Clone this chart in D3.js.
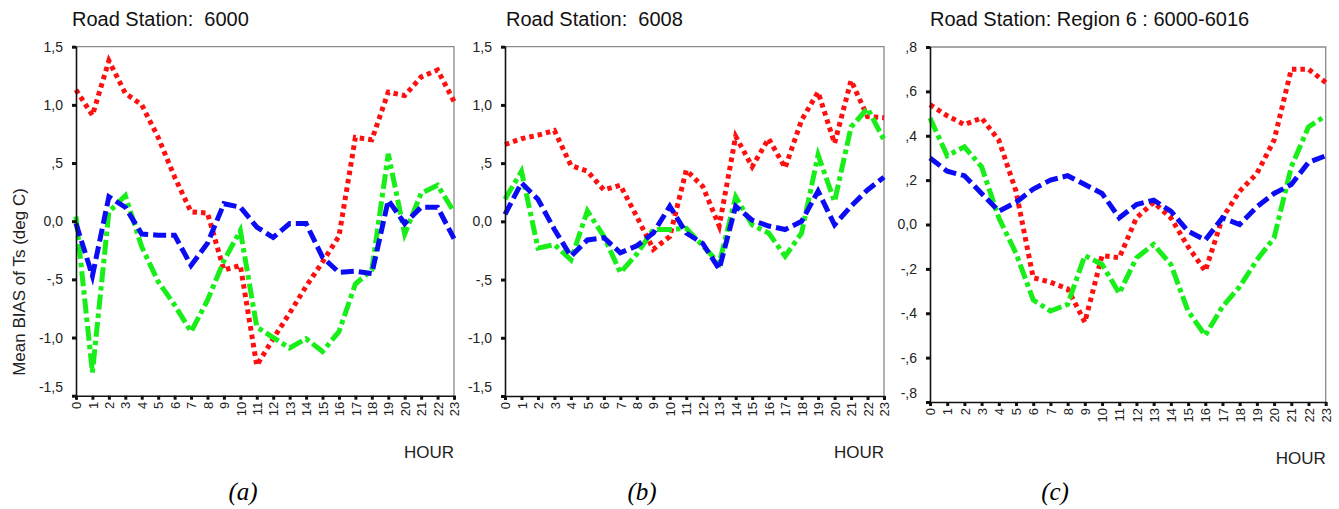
<!DOCTYPE html>
<html>
<head>
<meta charset="utf-8">
<script src="https://cdn.jsdelivr.net/npm/d3@7"></script>
<style>
  body { margin: 0; background: #fff; }
  svg { display: block; font-family: "Liberation Sans", Arial, sans-serif; }
</style>
</head>
<body>
<svg id="chart" width="1339" height="509"></svg>
<script>
// hours on the x axis
const hours = d3.range(0, 24);

// y ticks and their labels (SPSS style, comma decimal)
const yTicksAB = [1.5, 1.0, 0.5, 0.0, -0.5, -1.0, -1.5],
  yLabelsAB = ["1,5", "1,0", ",5", "0,0", "-,5", "-1,0", "-1,5"],
  yTicksC = [0.8, 0.6, 0.4, 0.2, 0.0, -0.2, -0.4, -0.6, -0.8],
  yLabelsC = [",8", ",6", ",4", ",2", "0,0", "-,2", "-,4", "-,6", "-,8"];

const titles = ["Road Station:  6000", "Road Station:  6008", "Road Station: Region 6 : 6000-6016"],
  captions = ["(a)", "(b)", "(c)"];

// station 6000
const redA = [1.13, 0.91, 1.38, 1.10, 1.00, 0.72, 0.38, 0.08, 0.07, -0.42, -0.38, -1.24, -1.01, -0.79, -0.56, -0.35, -0.13, 0.72, 0.70, 1.11, 1.08, 1.24, 1.30, 1.03],
  greenA = [0.04, -1.30, 0.08, 0.22, -0.22, -0.52, -0.72, -0.95, -0.68, -0.34, -0.08, -0.91, -1.00, -1.09, -1.01, -1.12, -0.95, -0.54, -0.42, 0.58, -0.11, 0.24, 0.31, 0.08],
  blueA = [-0.02, -0.47, 0.21, 0.12, -0.11, -0.12, -0.12, -0.38, -0.19, 0.15, 0.12, -0.05, -0.14, -0.02, -0.02, -0.31, -0.44, -0.43, -0.45, 0.18, -0.02, 0.12, 0.12, -0.15];

// station 6008
const redB = [0.66, 0.71, 0.74, 0.78, 0.48, 0.43, 0.27, 0.31, 0.04, -0.24, -0.13, 0.44, 0.30, -0.04, 0.73, 0.47, 0.71, 0.46, 0.87, 1.11, 0.67, 1.21, 0.90, 0.89],
  greenB = [0.19, 0.43, -0.23, -0.20, -0.33, 0.09, -0.13, -0.44, -0.28, -0.07, -0.07, -0.06, -0.21, -0.36, 0.21, -0.03, -0.10, -0.30, -0.10, 0.57, 0.17, 0.81, 0.97, 0.70],
  blueB = [0.06, 0.33, 0.19, -0.07, -0.30, -0.16, -0.14, -0.27, -0.21, -0.10, 0.13, -0.10, -0.19, -0.41, 0.13, 0.01, -0.04, -0.07, 0.00, 0.26, -0.03, 0.13, 0.27, 0.38];

// region 6
const redC = [0.54, 0.49, 0.45, 0.48, 0.38, 0.15, -0.24, -0.26, -0.29, -0.44, -0.14, -0.15, 0.03, 0.10, 0.03, -0.10, -0.21, 0.03, 0.15, 0.23, 0.38, 0.70, 0.70, 0.64],
  greenC = [0.48, 0.31, 0.35, 0.26, 0.03, -0.13, -0.34, -0.39, -0.36, -0.14, -0.18, -0.31, -0.15, -0.09, -0.18, -0.39, -0.50, -0.37, -0.28, -0.16, -0.06, 0.26, 0.44, 0.49],
  blueC = [0.30, 0.24, 0.22, 0.14, 0.06, 0.10, 0.16, 0.20, 0.22, 0.18, 0.14, 0.03, 0.09, 0.11, 0.06, -0.03, -0.07, 0.03, 0.00, 0.08, 0.14, 0.18, 0.28, 0.31];

const RED = "#ff1010", GREEN = "#18ee18", BLUE = "#0c0cf4";

const styles = [
  { color: RED, dash: "4.5,4" },
  { color: GREEN, dash: "15,4,4.5,4" },
  { color: BLUE, dash: "13,5" }
];

const panels = [
  { left: 76, right: 454, top: 46.7, bottom: 395.7, dom: [-1.5, 1.5], ticks: yTicksAB, labels: yLabelsAB, series: [redA, greenA, blueA], titleX: 72, captionX: 243 },
  { left: 505, right: 884, top: 46.7, bottom: 396, dom: [-1.5, 1.5], ticks: yTicksAB, labels: yLabelsAB, series: [redB, greenB, blueB], titleX: 506, captionX: 642 },
  { left: 930, right: 1325.7, top: 47, bottom: 402, dom: [-0.8, 0.8], ticks: yTicksC, labels: yLabelsC, series: [redC, greenC, blueC], titleX: 930, captionX: 1055 }
];

const svg = d3.select("#chart");

panels.forEach((p, i) => {
  const g = svg.append("g");

  const x = d3.scaleLinear().domain([0, 23]).range([p.left, p.right]);
  const y = d3.scaleLinear().domain(p.dom).range([p.bottom, p.top]);

  // frame: top and right edges grey
  g.append("path")
    .attr("d", `M${p.left},${p.top}H${p.right}V${p.bottom}`)
    .attr("fill", "none")
    .attr("stroke", "#8a8a8a")
    .attr("stroke-width", 1.3);

  // lines
  p.series.forEach((vals, k) => {
    const line = d3.line().x((d, j) => x(hours[j])).y(d => y(d));
    g.append("path")
      .datum(vals)
      .attr("d", line)
      .attr("fill", "none")
      .attr("stroke", styles[k].color)
      .attr("stroke-width", 5)
      .attr("stroke-dasharray", styles[k].dash)
      .attr("stroke-linejoin", "miter");
  });

  // y axis
  const yAxis = g.append("g")
    .attr("transform", `translate(${p.left},0)`)
    .call(d3.axisLeft(y).tickValues(p.ticks).tickSize(4).tickPadding(9)
      .tickFormat((d, j) => p.labels[j]));
  yAxis.select(".domain").attr("stroke", "#111").attr("stroke-width", 1.6);
  yAxis.selectAll(".tick line").attr("stroke", "#111").attr("stroke-width", 3);
  yAxis.selectAll(".tick text")
    .attr("font-size", 14)
    .attr("fill", "#222")
    .attr("font-family", "Liberation Sans, Arial, sans-serif")
    .attr("dy", (d, j) => j === p.ticks.length - 1 ? "-0.3em" : "0.32em");

  // x axis
  const xAxis = g.append("g")
    .attr("transform", `translate(0,${p.bottom})`)
    .call(d3.axisBottom(x).tickValues(hours).tickSize(4));
  xAxis.select(".domain").attr("stroke", "#111").attr("stroke-width", 1.6);
  xAxis.selectAll(".tick line").attr("stroke", "#111").attr("stroke-width", 3);
  xAxis.selectAll(".tick text")
    .attr("font-size", 13)
    .attr("fill", "#222")
    .attr("font-family", "Liberation Sans, Arial, sans-serif")
    .attr("transform", "rotate(-90)")
    .attr("text-anchor", "end")
    .attr("x", -6)
    .attr("y", 0)
    .attr("dy", "0.36em");

  // title
  svg.append("text")
    .attr("x", p.titleX)
    .attr("y", 26)
    .attr("font-size", 20)
    .attr("fill", "#111")
    .style("white-space", "pre")
    .text(titles[i]);

  // HOUR label
  svg.append("text")
    .attr("x", p.right)
    .attr("y", p.bottom + 62)
    .attr("text-anchor", "end")
    .attr("font-size", 17)
    .attr("fill", "#222")
    .text("HOUR");

  // caption
  svg.append("text")
    .attr("x", p.captionX)
    .attr("y", 500)
    .attr("text-anchor", "middle")
    .attr("font-family", "Liberation Serif, Times New Roman, serif")
    .attr("font-style", "italic")
    .attr("font-size", 25)
    .attr("fill", "#000")
    .text(captions[i]);
});

// y axis title on the first panel
svg.append("text")
  .attr("transform", "translate(25,282) rotate(-90)")
  .attr("text-anchor", "middle")
  .attr("font-size", 17)
  .attr("fill", "#222")
  .text("Mean BIAS of Ts (deg C)");
</script>
</body>
</html>
